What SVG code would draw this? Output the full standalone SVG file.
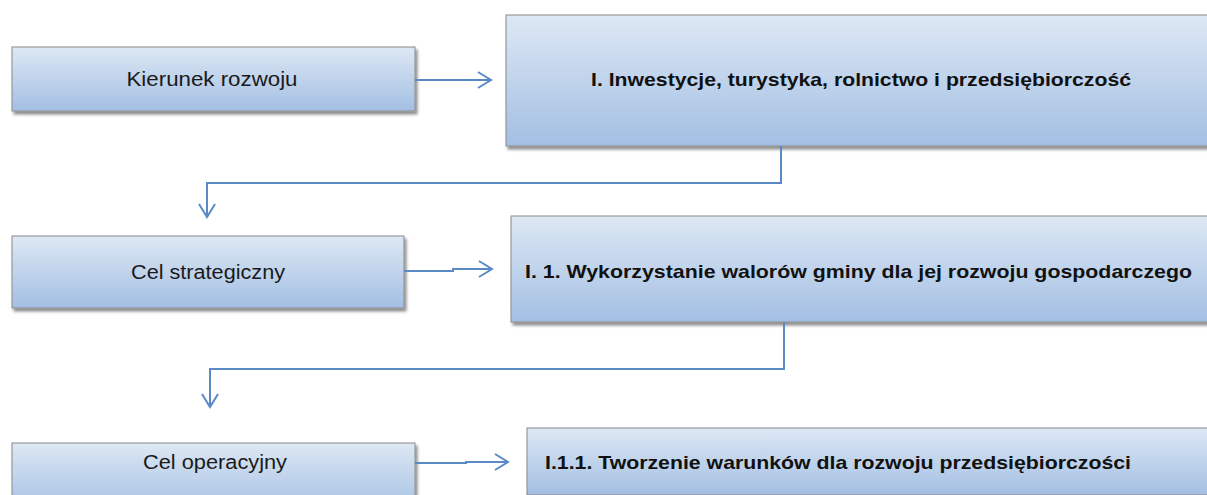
<svg xmlns="http://www.w3.org/2000/svg" width="1207" height="495" viewBox="0 0 1207 495">
<style>
.box{fill:url(#g);stroke:#8a8a8a;stroke-width:1;filter:url(#sh)}
.lbl{font-family:"Liberation Sans",Arial,sans-serif;font-size:20px;fill:#1a1a1a;text-anchor:middle}
.bl{font-family:"Liberation Sans",Arial,sans-serif;font-size:19px;font-weight:bold;fill:#111}
.con{fill:none;stroke:#5a8ac6;stroke-width:2;marker-end:url(#ah)}
</style>
<defs>
<linearGradient id="g" x1="0" y1="0" x2="0" y2="1">
<stop offset="0" stop-color="#dde8f4"/>
<stop offset="1" stop-color="#a3bfe3"/>
</linearGradient>
<filter id="sh" x="-5%" y="-10%" width="110%" height="130%">
<feDropShadow dx="2" dy="3" stdDeviation="1.5" flood-color="#000" flood-opacity="0.45"/>
</filter>
<marker id="ah" markerWidth="20" markerHeight="20" refX="15" refY="10" orient="auto" markerUnits="userSpaceOnUse">
<polyline points="2,2 15,10 2,18" fill="none" stroke="#5a8ac6" stroke-width="2"/>
</marker>
</defs>
<g id="n1"><rect class="box" x="12" y="47" width="403" height="64"/><text class="lbl" x="212" y="86" textLength="171" lengthAdjust="spacingAndGlyphs">Kierunek rozwoju</text></g>
<g id="n2"><rect class="box" x="506" y="15" width="712" height="131"/><text class="bl" x="591" y="86" textLength="540" lengthAdjust="spacingAndGlyphs">I. Inwestycje, turystyka, rolnictwo i przedsiębiorczość</text></g>
<g id="n3"><rect class="box" x="12" y="236" width="392" height="72"/><text class="lbl" x="208" y="279" textLength="154" lengthAdjust="spacingAndGlyphs">Cel strategiczny</text></g>
<g id="n4"><rect class="box" x="511" y="216" width="707" height="106"/><text class="bl" x="525" y="278" textLength="667" lengthAdjust="spacingAndGlyphs">I. 1. Wykorzystanie walorów gminy dla jej rozwoju gospodarczego</text></g>
<g id="n5"><rect class="box" x="12" y="443" width="403" height="70"/><text class="lbl" x="215" y="469" textLength="144" lengthAdjust="spacingAndGlyphs">Cel operacyjny</text></g>
<g id="n6"><rect class="box" x="527" y="428" width="691" height="67"/><text class="bl" x="545" y="469" textLength="586" lengthAdjust="spacingAndGlyphs">I.1.1. Tworzenie warunków dla rozwoju przedsiębiorczości</text></g>
<g id="connectors">
<path class="con" d="M415,80 H491"/>
<path class="con" d="M781,146 V183 H207 V217"/>
<path class="con" d="M404,271 H453 V269 H492"/>
<path class="con" d="M784,322 V369 H210 V407"/>
<path class="con" d="M415,463 H466 V462 H508"/>
</g>
</svg>
